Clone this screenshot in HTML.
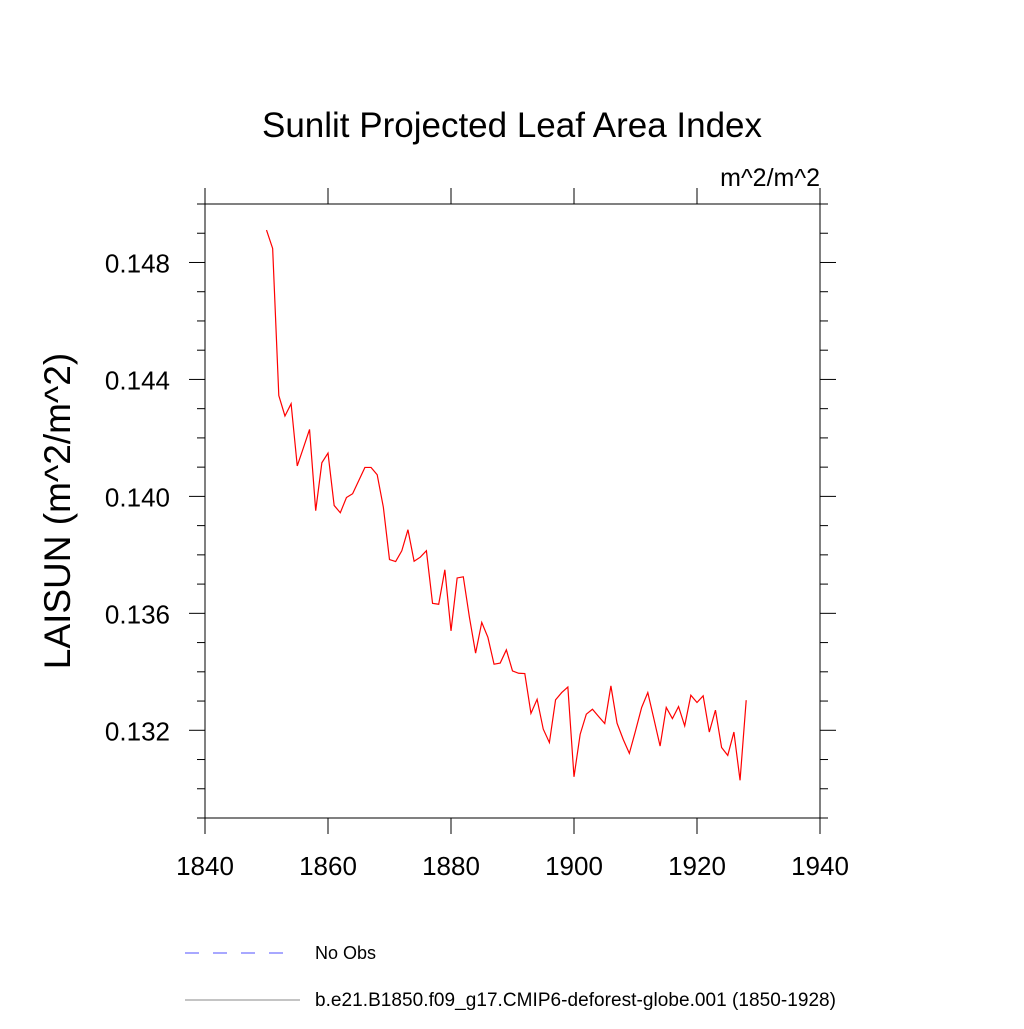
<!DOCTYPE html>
<html><head><meta charset="utf-8"><style>
body{margin:0;background:#fff;}
svg text{font-family:"Liberation Sans",sans-serif;fill:#000;}
</style></head><body>
<svg id="chart" width="1024" height="1024" xmlns="http://www.w3.org/2000/svg">
<text x="512" y="137" font-size="35" text-anchor="middle">Sunlit Projected Leaf Area Index</text>
<text x="820" y="186" font-size="25" text-anchor="end">m^2/m^2</text>
<text transform="translate(70,511) rotate(-90)" font-size="37" text-anchor="middle">LAISUN  (m^2/m^2)</text>
<g id="axes"></g>
<polyline id="series" fill="none" stroke="#ff0000" stroke-width="1.2"/>
<g>
<line x1="185" y1="953" x2="295" y2="953" stroke="#5050ff" stroke-width="1" stroke-dasharray="14,14"/>
<text x="315" y="959" font-size="18">No Obs</text>
<line x1="185" y1="1000" x2="300" y2="1000" stroke="#888" stroke-width="1"/>
<text x="315" y="1006" font-size="19" textLength="521">b.e21.B1850.f09_g17.CMIP6-deforest-globe.001 (1850-1928)</text>
</g>
</svg>
<script>
const years = [];
for (let y = 1850; y <= 1928; y++) years.push(y);
const values = [0.14911,0.14848,0.14345,0.14275,0.14317,0.14104,0.14166,0.14229,0.13951,0.14115,
0.14148,0.13969,0.13944,0.13996,0.14009,0.14054,0.14099,0.14099,0.14074,0.13963,
0.13784,0.13777,0.13814,0.13886,0.13778,0.13792,0.13814,0.13634,0.13631,0.13749,
0.13540,0.13721,0.13725,0.13586,0.13464,0.13569,0.13518,0.13426,0.13430,0.13475,
0.13403,0.13395,0.13394,0.13258,0.13306,0.13204,0.13158,0.13304,0.13329,0.13348,
0.13041,0.13186,0.13255,0.13272,0.13247,0.13223,0.13352,0.13224,0.13169,0.13121,
0.13198,0.13278,0.13329,0.13238,0.13146,0.13278,0.13240,0.13281,0.13215,0.13320,
0.13295,0.13318,0.13194,0.13269,0.13141,0.13114,0.13194,0.13029,0.13303];
const xTicks = [1840,1860,1880,1900,1920,1940];
const yTicks = [0.132,0.136,0.140,0.144,0.148];
const xMin=1840,xMax=1940,yMin=0.129,yMax=0.150;
const L=205,R=820,T=204,B=818;
const sx=v=>L+(v-xMin)/(xMax-xMin)*(R-L);
const sy=v=>B-(v-yMin)/(yMax-yMin)*(B-T);
const NS='http://www.w3.org/2000/svg';
const g=document.getElementById('axes');
function line(x1,y1,x2,y2,name){
  const l=document.createElementNS(NS,'line');
  l.setAttribute('x1',x1);l.setAttribute('y1',y1);l.setAttribute('x2',x2);l.setAttribute('y2',y2);
  l.setAttribute('stroke','#000');l.setAttribute('stroke-width','1');
  
  
  g.appendChild(l);
}
function text(x,y,s,anchor,name){
  const t=document.createElementNS(NS,'text');
  t.setAttribute('x',x);t.setAttribute('y',y);t.setAttribute('font-size','26');t.setAttribute('text-anchor',anchor);
  t.textContent=s;
  
  
  g.appendChild(t);
}
line(L,T,R,T,'plot-frame-top');line(L,B,R,B,'plot-frame-bottom');
line(L,T,L,B,'plot-frame-left');line(R,T,R,B,'plot-frame-right');
xTicks.forEach(v=>{const x=sx(v);
  line(x,B,x,B+16,'x-tick');line(x,T,x,T-16,'x-tick-top');
  text(x,875,String(v),'middle','x-tick-label');});
for(let i=0;i<=21;i++){const v=yMin+i*0.001;const y=sy(v);
  const major=yTicks.some(t=>Math.abs(t-v)<1e-7);const len=major?16:8;
  line(L-len,y,L,y,'y-tick');line(R,y,R+len,y,'y-tick-right');}
yTicks.forEach(v=>text(170,sy(v)+10,v.toFixed(3),'end','y-tick-label'));
document.getElementById('series').setAttribute('points',years.map((y,i)=>sx(y)+','+sy(values[i])).join(' '));
</script>
</body></html>
